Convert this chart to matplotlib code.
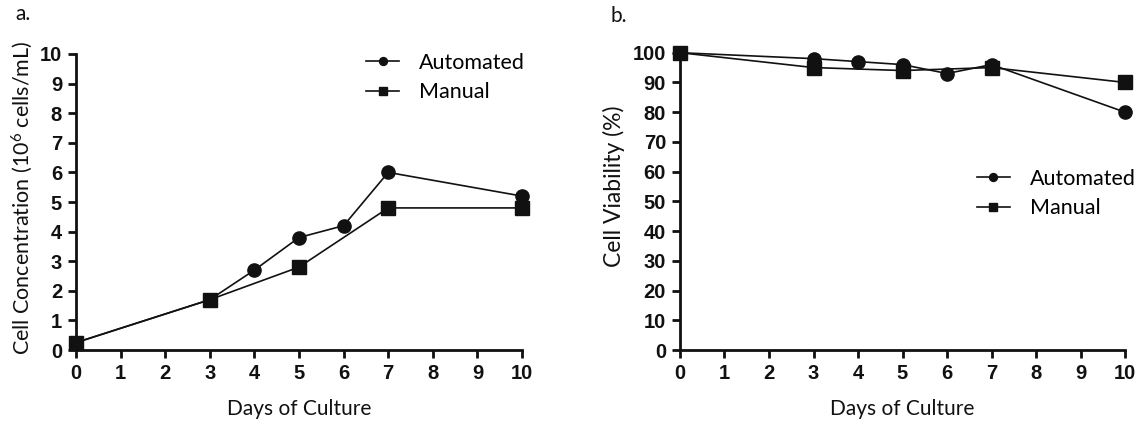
import matplotlib
matplotlib.use('Agg')
import matplotlib.pyplot as plt

plt.rcParams['mathtext.default'] = 'regular'

days_auto = [0, 3, 4, 5, 6, 7, 10]
days_manual = [0, 3, 5, 7, 10]

conc_auto = [0.25, 1.7, 2.7, 3.8, 4.2, 6.0, 5.2]
conc_manual = [0.25, 1.7, 2.8, 4.8, 4.8]

via_auto = [100, 98, 97, 96, 93, 96, 80]
via_manual = [100, 95, 94, 95, 90]

x_ticks = list(range(0, 11))
conc_ticks = list(range(0, 11))
via_ticks = list(range(0, 101, 10))

label_font = 'Lato'
tick_font = 'Liberation Sans'

fig = plt.figure(figsize=(11.39, 4.23), dpi=100)
W, H = 1139, 423


def make_axes(x0, x1, ytop, ybot):
    return fig.add_axes([x0 / W, 1 - ybot / H, (x1 - x0) / W, (ybot - ytop) / H])


ax1 = make_axes(76, 522, 54, 350)
ax2 = make_axes(680, 1125, 52.7, 350)


def style(ax, yticks, ylabel, ylab_pos, ylab_size):
    ax.set_xlim(0, 10)
    ax.set_ylim(yticks[0], yticks[-1])
    ax.set_xticks(x_ticks)
    ax.set_yticks(yticks)
    for s in ['top', 'right']:
        ax.spines[s].set_visible(False)
    for s in ['left', 'bottom']:
        ax.spines[s].set_linewidth(2.0)
        ax.spines[s].set_color('#111111')
    ax.tick_params(direction='out', length=6, width=2.0, color='#111111', pad=4)
    for lab in ax.get_xticklabels() + ax.get_yticklabels():
        lab.set_fontfamily(tick_font)
        lab.set_fontweight('bold')
        lab.set_fontsize(14.5)
        lab.set_color('#111111')
    ax.set_xlabel('Days of Culture', fontfamily=label_font, fontsize=15, color='#111111')
    ax.xaxis.set_label_coords(0.5, -0.165)
    ax.set_ylabel(ylabel, fontfamily=label_font, fontsize=ylab_size, color='#111111')
    ax.yaxis.set_label_coords(*ylab_pos)


def draw(ax, y_auto, y_manual, legend_pos):
    ax.plot(days_auto, y_auto, color='#111111', lw=1.2, marker='o', markersize=9.5,
            clip_on=False, zorder=5, label='Automated')
    ax.plot(days_manual, y_manual, color='#111111', lw=1.2, marker='s', markersize=9.5,
            clip_on=False, zorder=6, label='Manual')
    ax.legend(loc='upper left', bbox_to_anchor=legend_pos, frameon=False,
              prop={'family': label_font, 'size': 15.5}, markerscale=0.6,
              handlelength=1.55, handletextpad=0.9, labelspacing=0.45,
              borderpad=0, borderaxespad=0)


draw(ax1, conc_auto, conc_manual, (0.65, 1.005))
draw(ax2, via_auto, via_manual, (0.667, 0.61))

style(ax1, conc_ticks, 'Cell Concentration (10$^6$ cells/mL)', (-0.092, 0.515), 15.5)
style(ax2, via_ticks, 'Cell Viability (%)', (-0.124, 0.55), 16.5)

fig.text(15 / W, 1 - 14 / H, 'a.', fontfamily=label_font, fontsize=15, va='center', color='#111111')
fig.text(611 / W, 1 - 16 / H, 'b.', fontfamily=label_font, fontsize=15, va='center', color='#111111')

fig.savefig('out.png', dpi=100, facecolor='white')
